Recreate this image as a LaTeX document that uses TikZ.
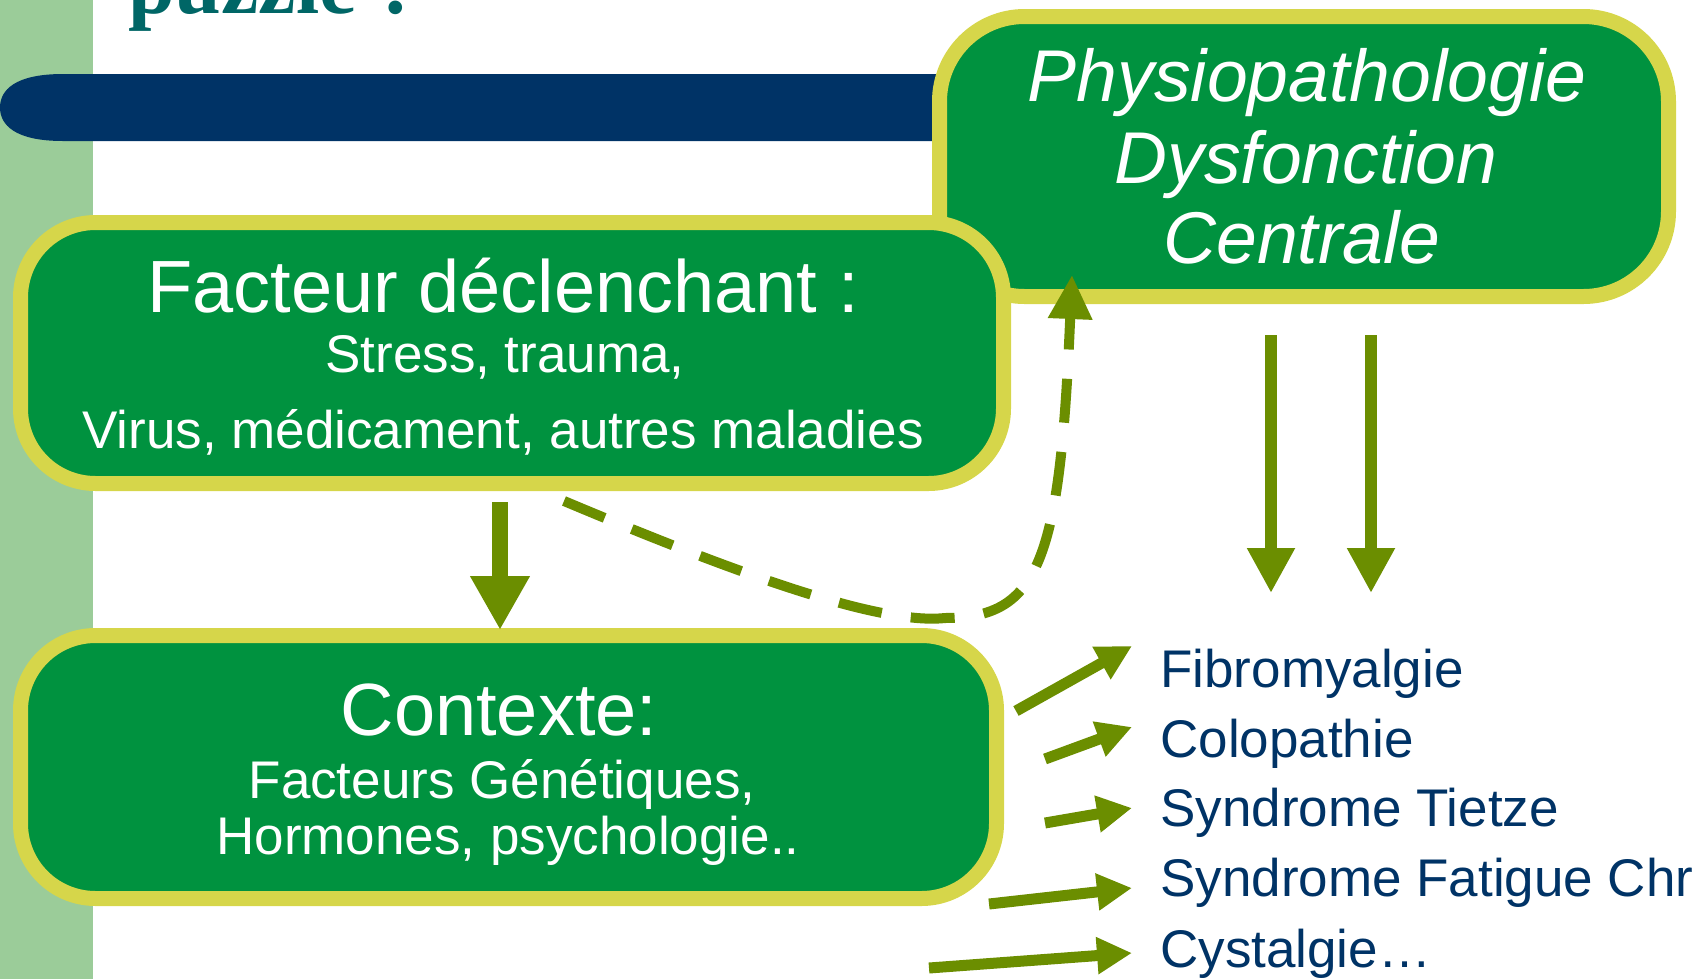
\documentclass[tikz,border=0pt]{standalone}
\usepackage{fontspec}
\setmainfont{Liberation Sans}
\newfontfamily\titlefont{Liberation Serif}
\usetikzlibrary{arrows.meta}
\definecolor{boxgreen}{HTML}{00923F}
\definecolor{boxyellow}{HTML}{D6D64A}
\definecolor{arrowolive}{HTML}{6B8E00}
\definecolor{stripgreen}{HTML}{9BCC99}
\definecolor{barblue}{HTML}{003366}
\definecolor{titleteal}{HTML}{006666}
\definecolor{listblue}{HTML}{003366}
\tikzset{
  greenbox/.style={rectangle, draw=boxyellow, fill=boxgreen, line width=11.25pt, inner sep=0pt, outer sep=0pt},
  bigtext/.style={text=white, inner sep=0pt, anchor=base, font=\fontsize{55.5pt}{60pt}\selectfont},
  smalltext/.style={text=white, inner sep=0pt, anchor=base, font=\fontsize{39.75pt}{44pt}\selectfont},
  physiotext/.style={text=white, inner sep=0pt, anchor=base, font=\fontsize{55pt}{60pt}\selectfont\itshape},
  listtext/.style={text=listblue, inner sep=0pt, anchor=base west, font=\fontsize{39.75pt}{44pt}\selectfont},
  titletext/.style={text=titleteal, inner sep=0pt, anchor=base west, font=\fontsize{63pt}{66pt}\selectfont\titlefont\bfseries},
  bigarrow/.style={draw=arrowolive, line width=12pt, -{Triangle[length=40.5pt,width=42pt]}},
  downarrow/.style={draw=arrowolive, line width=9pt, -{Triangle[length=33.75pt,width=33.75pt]}},
  listarrow/.style={draw=arrowolive, line width=8.25pt, -{Triangle[length=26.25pt,width=26.25pt]}},
  dasharrow/.style={draw=arrowolive, line width=7.5pt, dash pattern=on 33pt off 22pt, -{Triangle[length=33pt,width=31.5pt]}}
}
\begin{document}
\begin{tikzpicture}[x=0.75pt,y=-0.75pt]
\useasboundingbox (0,0) rectangle (1704,979);
\clip (0,0) rectangle (1704,979);
% background strip and bar
\fill[stripgreen] (0,0) rectangle (93,979);
\fill[barblue] (960,74) -- (63,74) .. controls (15,74) and (0,90) .. (0,107.5) .. controls (0,125) and (15,141) .. (63,141) -- (960,141) -- cycle;
\node[titletext] (title) at (128,13) {puzzle ?};
% boxes
\node[greenbox, minimum width=546.75pt, minimum height=210pt, rounded corners=63.75pt] (physio) at (1304,156.5) {};
\node[physiotext] (ph1) at (1307,101) {Physiopathologie};
\node[physiotext] (ph2) at (1306,183) {Dysfonction};
\node[physiotext] (ph3) at (1302,263) {Centrale};

\node[greenbox, minimum width=737.25pt, minimum height=195.75pt, rounded corners=56.25pt] (facteur) at (512,353) {};
\node[bigtext] (f1) at (503,312) {Facteur déclenchant :};
\node[smalltext] (f2) at (505,372) {Stress, trauma,};
\node[smalltext] (f3) at (503,448) {Virus, médicament, autres maladies};

\node[greenbox, minimum width=732pt, minimum height=197.25pt, rounded corners=56.25pt] (contexte) at (508.5,767) {};
\node[bigtext] (c1) at (499,735) {Contexte:};
\node[smalltext] (c2) at (502,798) {Facteurs Génétiques,};
\node[smalltext] (c3) at (508,854) {Hormones, psychologie..};

% list
\node[listtext] (l1) at (1160,687) {Fibromyalgie};
\node[listtext] (l2) at (1160,757) {Colopathie};
\node[listtext] (l3) at (1160,826) {Syndrome Tietze};
\node[listtext] (l4) at (1160,896) {Syndrome Fatigue Chr};
\node[listtext] (l5) at (1160,967) {Cystalgie\dots};

% coordinates
\coordinate (fa) at (500,502);
\coordinate (fb) at (500,630);
\coordinate (da1) at (1271,335);
\coordinate (db1) at (1271,593);
\coordinate (da2) at (1371,335);
\coordinate (db2) at (1371,593);
\coordinate (ds) at (564,501);
\coordinate (dm) at (945,618);
\coordinate (de) at (1072,275);
\coordinate (a1) at (1016,711);
\coordinate (b1) at (1132,646);
\coordinate (a2) at (1045,759);
\coordinate (b2) at (1132,727);
\coordinate (a3) at (1045,823);
\coordinate (b3) at (1132,808);
\coordinate (a4) at (989,904);
\coordinate (b4) at (1132,888);
\coordinate (a5) at (929,968);
\coordinate (b5) at (1132,953);

% arrows
\draw[bigarrow] (fa) -- (fb);
\draw[downarrow] (da1) -- (db1);
\draw[downarrow] (da2) -- (db2);
\draw[dasharrow] (ds) .. controls (740,575) and (880,625) .. (dm) .. controls (1040,618) and (1060,560) .. (de);
\draw[listarrow] (a1) -- (b1);
\draw[listarrow] (a2) -- (b2);
\draw[listarrow] (a3) -- (b3);
\draw[listarrow] (a4) -- (b4);
\draw[listarrow] (a5) -- (b5);
\end{tikzpicture}
\end{document}
